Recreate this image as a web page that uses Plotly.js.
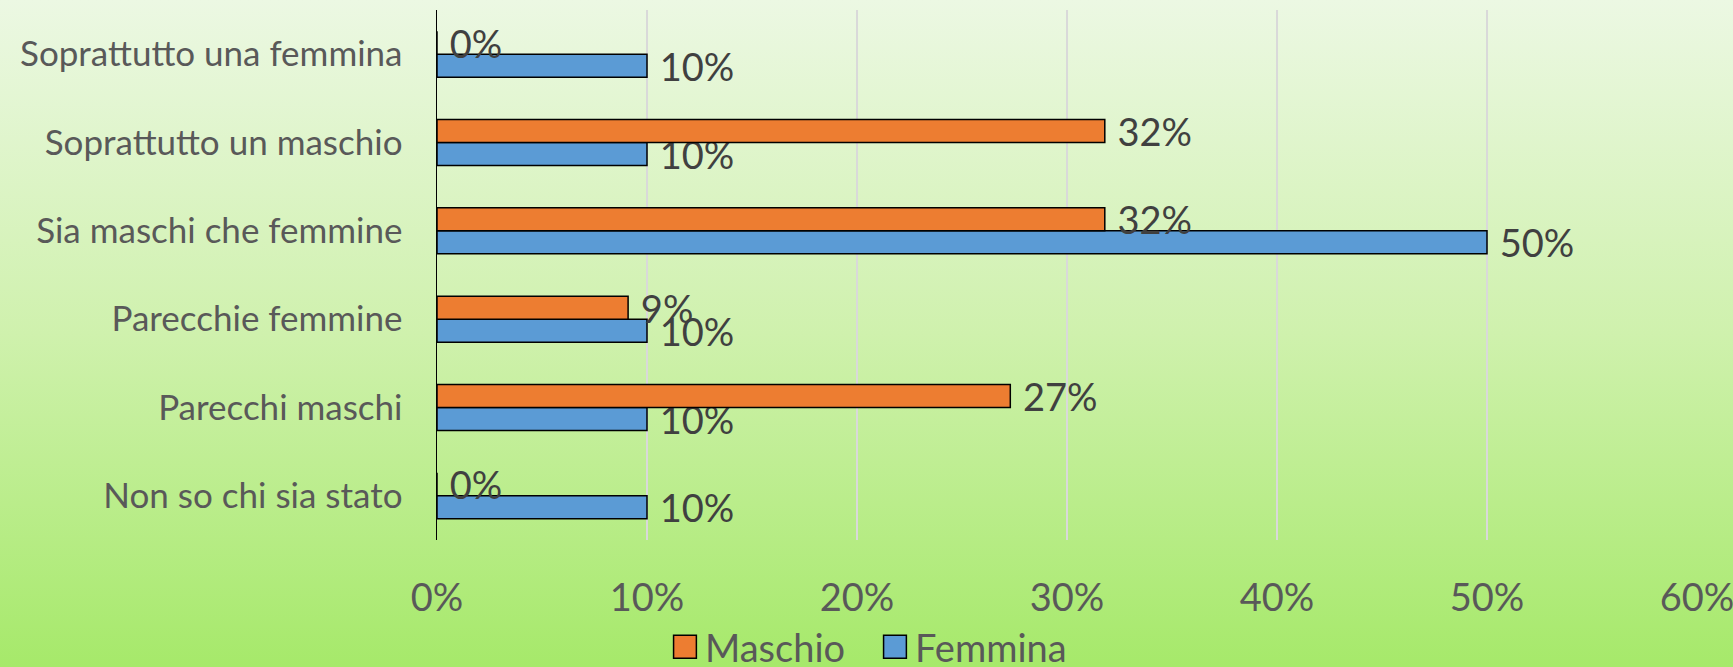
<!DOCTYPE html>
<html>
<head>
<meta charset="utf-8">
<script src="https://cdn.plot.ly/plotly-3.0.1.min.js"></script>
<style>
  html, body { margin: 0; padding: 0; }
  #chart { width: 1733px; height: 667px; background: linear-gradient(to bottom, #ecf8e3 0%, #cff1ad 50%, #a6e96a 100%); }
</style>
</head>
<body>
<div id="chart"></div>
<script>
// Categories listed top to bottom as in the chart
const categories = [
  "Soprattutto una femmina",
  "Soprattutto un maschio",
  "Sia maschi che femmine",
  "Parecchie femmine",
  "Parecchi maschi",
  "Non so chi sia stato"
];
const maschio = [0, 0.318, 0.318, 0.091, 0.273, 0];
const femmina = [0.10, 0.10, 0.50, 0.10, 0.10, 0.10];
const seriesNames = ["Maschio", "Femmina"];
const xTickVals = [0, 0.1, 0.2, 0.3, 0.4, 0.5, 0.6];

const FONT = "Lato, 'Open Sans', sans-serif";
const labelFont = { family: FONT, size: 38, color: "#404040" };
const pad = "\u00A0";

const traceFemmina = {
  type: "bar", orientation: "h", name: seriesNames[1],
  x: femmina, y: categories,
  marker: { color: "#5B9BD5", line: { color: "#000000", width: 1.5 } },
  text: femmina.map(v => pad + Math.round(v * 100) + "%"),
  textposition: "outside", constraintext: "none", cliponaxis: false,
  textfont: labelFont, hoverinfo: "skip", legendrank: 2
};
const traceMaschio = {
  type: "bar", orientation: "h", name: seriesNames[0],
  x: maschio, y: categories,
  marker: { color: "#ED7D31", line: { color: "#000000", width: 1.5 } },
  text: maschio.map(v => pad + Math.round(v * 100) + "%"),
  textposition: "outside", constraintext: "none", cliponaxis: false,
  textfont: labelFont, hoverinfo: "skip", legendrank: 1
};

const layout = {
  width: 1733, height: 667,
  margin: { l: 437, r: 36, t: 10, b: 127, autoexpand: false },
  paper_bgcolor: "rgba(0,0,0,0)",
  plot_bgcolor: "rgba(0,0,0,0)",
  barmode: "group", bargap: 0.48, bargroupgap: 0,
  font: { family: FONT, color: "#595959" },
  xaxis: {
    range: [0, 0.6], tickvals: xTickVals, tickformat: ".0%",
    showgrid: true, gridcolor: "#d9d9d9", gridwidth: 1.3,
    zeroline: false, showline: false, ticks: "",
    tickfont: { family: FONT, size: 38, color: "#595959" },
    ticklabelstandoff: 32, ticklabeloverflow: "allow", automargin: false
  },
  yaxis: {
    type: "category", categoryorder: "array", categoryarray: categories.slice().reverse(),
    showline: true, linecolor: "#000000", linewidth: 1.5,
    showgrid: false, zeroline: false, ticks: "",
    tickfont: { family: FONT, size: 35, color: "#595959" },
    ticklabelstandoff: 26, automargin: false
  },
  showlegend: true,
  legend: {
    orientation: "h", x: 0.3476, xanchor: "center", y: -0.202, yanchor: "middle",
    font: { family: FONT, size: 38, color: "#595959" },
    bgcolor: "rgba(0,0,0,0)",
    entrywidth: 165, entrywidthmode: "pixels"
  }
};

Plotly.newPlot("chart", [traceFemmina, traceMaschio], layout, { displayModeBar: false, staticPlot: true }).then(gd => {
  document.querySelectorAll("#chart .legendpoints path").forEach(p => {
    const t = p.getAttribute("transform") || "";
    p.setAttribute("transform", t + " scale(1.9)");
    p.style.vectorEffect = "non-scaling-stroke";
  });
});
</script>
</body>
</html>
